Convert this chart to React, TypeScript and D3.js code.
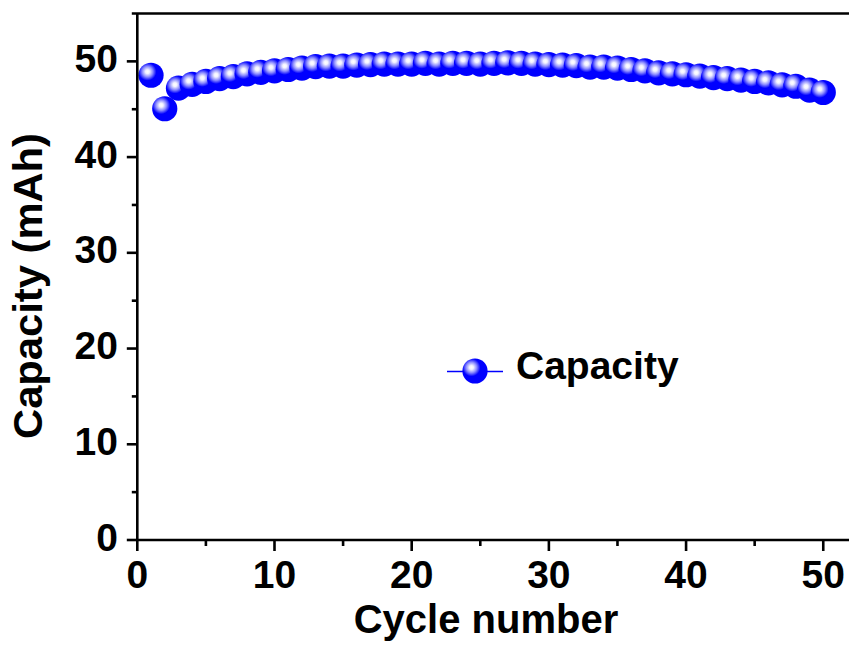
import React from "react";
import * as d3 from "d3";

const cycles: number[] = [
  1, 2, 3, 4, 5, 6, 7, 8, 9, 10, 11, 12, 13, 14, 15, 16, 17, 18, 19, 20, 21, 22, 23, 24, 25,
  26, 27, 28, 29, 30, 31, 32, 33, 34, 35, 36, 37, 38, 39, 40, 41, 42, 43, 44, 45, 46, 47, 48, 49, 50,
];
const capacity: number[] = [
  48.55, 45.05, 47.2, 47.6, 47.9, 48.2, 48.4, 48.7, 48.85, 49.0,
  49.15, 49.3, 49.45, 49.5, 49.5, 49.6, 49.65, 49.72, 49.72, 49.72,
  49.8, 49.72, 49.8, 49.8, 49.72, 49.8, 49.85, 49.8, 49.72, 49.65,
  49.6, 49.55, 49.4, 49.4, 49.3, 49.15, 49.0, 48.8, 48.7, 48.6,
  48.45, 48.3, 48.2, 48.05, 47.9, 47.75, 47.55, 47.4, 47.0, 46.75,
];
const xMajorTicks: number[] = [0, 10, 20, 30, 40, 50];
const xMinorTicks: number[] = [5, 15, 25, 35, 45];
const yMajorTicks: number[] = [0, 10, 20, 30, 40, 50];
const yMinorTicks: number[] = [5, 15, 25, 35, 45];
const seriesName = "Capacity";
const xTitle = "Cycle number";
const yTitle = "Capacity (mAh)";

const W = 849;
const H = 645;
const FONT = "'Liberation Sans', Arial, sans-serif";

export default function App() {
  const x = d3.scaleLinear().domain([0, 52]).range([137.3, 850.7]);
  const y = d3.scaleLinear().domain([0, 55]).range([540, 13.5]);
  const data = cycles.map((c, i) => ({ c, v: capacity[i] }));
  const r = 12.6;
  const axisW = 2.6;
  const tickFont = 39;

  return (
    <svg
      width={W}
      height={H}
      style={{ position: "absolute", left: 0, top: 0, background: "#fff" }}
      fontFamily={FONT}
    >
      <defs>
        <radialGradient id="ball" cx="0.36" cy="0.36" r="0.55">
          <stop offset="0" stopColor="#ffffff" />
          <stop offset="0.14" stopColor="#f2f2ff" />
          <stop offset="0.38" stopColor="#8c8cff" />
          <stop offset="0.64" stopColor="#0000ff" />
          <stop offset="1" stopColor="#0000ff" />
        </radialGradient>
      </defs>

      {/* series markers */}
      {data.map((d, i) => (
        <circle key={i} cx={x(d.c)} cy={y(d.v)} r={r} fill="url(#ball)" />
      ))}

      {/* axes frame */}
      <line x1={x(0) - 5.5} x2={W} y1={y(55)} y2={y(55)} stroke="#000" strokeWidth={axisW} />
      <line x1={x(0)} x2={x(0)} y1={y(55)} y2={y(0)} stroke="#000" strokeWidth={axisW} />
      <line x1={x(0)} x2={W} y1={y(0)} y2={y(0)} stroke="#000" strokeWidth={axisW} />

      {/* x ticks */}
      {xMajorTicks.map((t) => (
        <g key={"xm" + t}>
          <line x1={x(t)} x2={x(t)} y1={y(0)} y2={y(0) + 11} stroke="#000" strokeWidth={axisW} />
          <text
            x={x(t)}
            y={588}
            textAnchor="middle"
            fontSize={tickFont}
            fontWeight="bold"
            fill="#000"
          >
            {t}
          </text>
        </g>
      ))}
      {xMinorTicks.map((t) => (
        <line key={"xn" + t} x1={x(t)} x2={x(t)} y1={y(0)} y2={y(0) + 6} stroke="#000" strokeWidth={axisW} />
      ))}

      {/* y ticks */}
      {yMajorTicks.map((t) => (
        <g key={"ym" + t}>
          <line x1={x(0) - 10.5} x2={x(0)} y1={y(t)} y2={y(t)} stroke="#000" strokeWidth={axisW} />
          <text
            x={118}
            y={y(t) + 10.5}
            textAnchor="end"
            fontSize={tickFont}
            fontWeight="bold"
            fill="#000"
          >
            {t}
          </text>
        </g>
      ))}
      {yMinorTicks.map((t) => (
        <line key={"yn" + t} x1={x(0) - 5.5} x2={x(0)} y1={y(t)} y2={y(t)} stroke="#000" strokeWidth={axisW} />
      ))}

      {/* axis titles */}
      <text x={486} y={633} textAnchor="middle" fontSize={40} fontWeight="bold" fill="#000">
        {xTitle}
      </text>
      <text
        transform={`translate(42,286) rotate(-90)`}
        textAnchor="middle"
        fontSize={40}
        fontWeight="bold"
        fill="#000"
        textLength={306}
        lengthAdjust="spacingAndGlyphs"
      >
        {yTitle}
      </text>

      {/* legend */}
      <line x1={447} x2={503} y1={371.5} y2={371.5} stroke="#0000ff" strokeWidth={1.5} />
      <circle cx={475} cy={371} r={r} fill="url(#ball)" />
      <text x={516} y={379} fontSize={39} fontWeight="bold" fill="#000">
        {seriesName}
      </text>
    </svg>
  );
}
